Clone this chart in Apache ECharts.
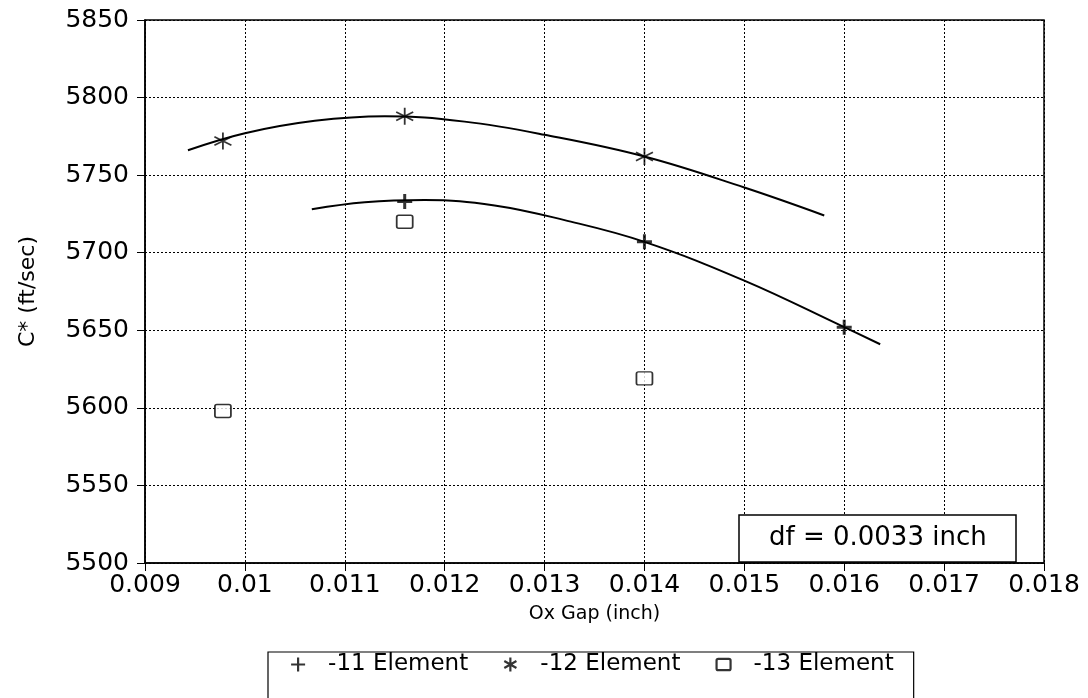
<!DOCTYPE html>
<html>
<head>
<meta charset="utf-8">
<script src="https://cdn.jsdelivr.net/npm/echarts@6/dist/echarts.min.js"></script>
<style>html,body{margin:0;padding:0;background:#fff}#c{width:1088px;height:698px}</style>
</head>
<body>
<div id="c"></div>
<script>
// ---- data ----
const gap11 = [0.0116, 0.0140, 0.0160];
const cstar11 = [5733, 5707, 5652];
const gap12 = [0.00978, 0.0116, 0.0140];
const cstar12 = [5772, 5788, 5762];
const gap13 = [0.00978, 0.0116, 0.0140];
const cstar13 = [5598, 5720, 5619];

// fitted curves as traced on the picture
const fit12Gap = [0.00943, 0.0100, 0.0107, 0.0114, 0.0122, 0.0130, 0.0140, 0.0150, 0.0158];
const fit12Cstar = [5766, 5777, 5785, 5788, 5784.5, 5776, 5762, 5742, 5724];
const fit11Gap = [0.01067, 0.0112, 0.0118, 0.0125, 0.0132, 0.0140, 0.0150, 0.0160, 0.01636];
const fit11Cstar = [5728, 5732.5, 5734, 5730.5, 5721, 5707, 5682, 5652, 5641];

const xTickLabels = ['0.009','0.01','0.011','0.012','0.013','0.014','0.015','0.016','0.017','0.018'];
const seriesNames = ['-11 Element', '-12 Element', '-13 Element'];
const noteText = 'df = 0.0033 inch';

const pair = (xs, ys) => xs.map((x, i) => [x, ys[i]]);

const FONT = 'DejaVu Sans';
const plusPath = 'path://M-7,0L7,0M0,-7L0,7';
const starPath = 'path://M0,-8L0,8M-6.93,-4L6.93,4M-6.93,4L6.93,-4';
const boxPath = 'path://M2,0L14,0Q16,0 16,2L16,11Q16,13 14,13L2,13Q0,13 0,11L0,2Q0,0 2,0Z';

const chart = echarts.init(document.getElementById('c'), null, {renderer: 'canvas'});
const option = {
  backgroundColor: '#fff',
  animation: false,
  textStyle: {fontFamily: FONT, color: '#000'},
  grid: {left: 145, right: 44, top: 20, bottom: 135, show: true, borderColor: '#000', borderWidth: 1.5,
         containLabel: false, outerBoundsMode: 'none'},
  title: {
    text: noteText, left: 739, top: 515,
    backgroundColor: '#fff', borderColor: '#000', borderWidth: 1.5,
    padding: [10, 30, 11, 30],
    textStyle: {fontFamily: FONT, fontSize: 26, fontWeight: 'normal', color: '#000'}
  },
  legend: {
    data: [
      {name: seriesNames[0], icon: plusPath},
      {name: seriesNames[1], icon: starPath},
      {name: seriesNames[2], icon: boxPath}
    ],
    left: 268, top: 652, orient: 'horizontal',
    padding: [1, 20, 60, 22], itemGap: 35, itemWidth: 14, itemHeight: 14,
    borderColor: '#000', borderWidth: 1.2,
    itemStyle: {borderWidth: 2.2},
    textStyle: {fontFamily: FONT, fontSize: 23, color: '#000', padding: [0, 0, 0, 18]}
  },
  xAxis: {
    type: 'value', min: 0.009, max: 0.018, interval: 0.001,
    name: 'Ox Gap (inch)', nameLocation: 'middle', nameGap: 42,
    nameTextStyle: {fontFamily: FONT, fontSize: 19, color: '#000'},
    axisLine: {show: true, lineStyle: {color: '#000', width: 1.5}},
    axisTick: {show: true, inside: false, length: 8, lineStyle: {color: '#000', width: 1}},
    axisLabel: {margin: 10, fontFamily: FONT, fontSize: 25, color: '#000',
      formatter: v => xTickLabels[Math.round((v - 0.009) / 0.001)] || ''},
    splitLine: {show: true, lineStyle: {color: '#000', width: 1, type: [2, 2]}}
  },
  yAxis: {
    type: 'value', min: 5500, max: 5850, interval: 50,
    name: 'C* (ft/sec)', nameLocation: 'middle', nameGap: 106,
    nameTextStyle: {fontFamily: FONT, fontSize: 22, color: '#000'},
    axisLine: {show: true, lineStyle: {color: '#000', width: 1.5}},
    axisTick: {show: true, inside: false, length: 8, lineStyle: {color: '#000', width: 1}},
    axisLabel: {margin: 16, fontFamily: FONT, fontSize: 25, color: '#000', formatter: v => String(v)},
    splitLine: {show: true, lineStyle: {color: '#000', width: 1, type: [2, 2]}}
  },
  series: [
    {name: 'fit -12', type: 'line', data: pair(fit12Gap, fit12Cstar), smooth: 0.4,
     showSymbol: false, silent: true, lineStyle: {color: '#000', width: 2}, z: 3},
    {name: 'fit -11', type: 'line', data: pair(fit11Gap, fit11Cstar), smooth: 0.4,
     showSymbol: false, silent: true, lineStyle: {color: '#000', width: 2}, z: 3},
    {name: seriesNames[0], type: 'scatter', data: pair(gap11, cstar11), symbol: plusPath, symbolSize: 15,
     itemStyle: {color: '#000', borderColor: '#000', borderWidth: 3}, z: 4},
    {name: seriesNames[1], type: 'scatter', data: pair(gap12, cstar12), symbol: starPath, symbolSize: 17,
     itemStyle: {color: '#000', borderColor: '#000', borderWidth: 1.8}, z: 4},
    {name: seriesNames[2], type: 'scatter', data: pair(gap13, cstar13), symbol: boxPath, symbolSize: [16, 13],
     itemStyle: {color: '#fff', borderColor: '#000', borderWidth: 1.6}, z: 4}
  ]
};
chart.setOption(option);
</script>
</body>
</html>
